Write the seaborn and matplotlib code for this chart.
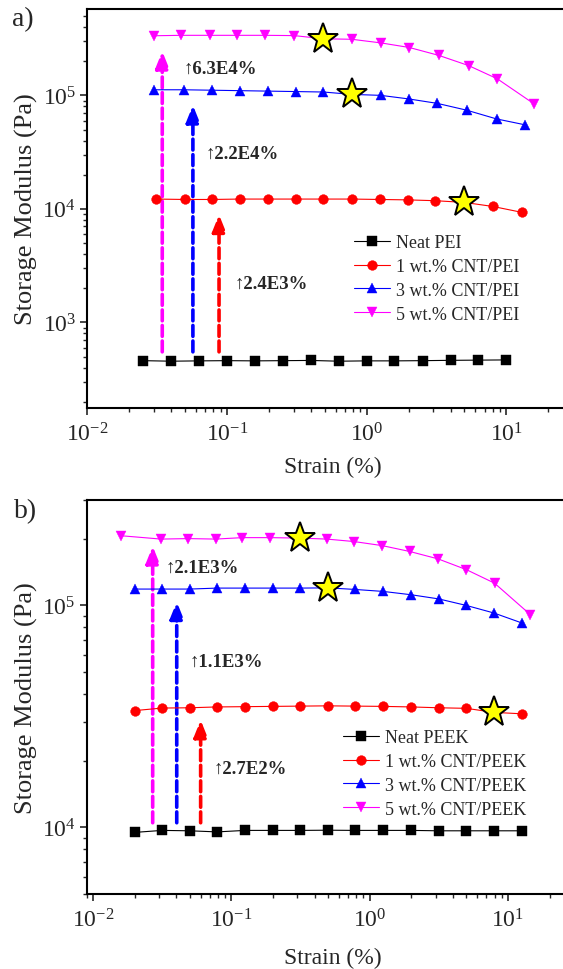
import matplotlib
matplotlib.use("Agg")
import matplotlib.pyplot as plt
import seaborn as sns
from matplotlib.ticker import LogLocator, NullFormatter, FixedLocator

sns.set_style("ticks")
plt.rcParams['font.family'] = ['Liberation Serif', 'DejaVu Serif']
plt.rcParams['mathtext.fontset'] = 'stix'

# ---------------- data: panel a) PEI ----------------
pei_neat_x = [0.0251, 0.0398, 0.0631, 0.1, 0.158, 0.251, 0.398, 0.631, 1.0, 1.58, 2.51, 3.98, 6.31, 10.0]
pei_neat_y = [460, 455, 458, 460, 458, 460, 462, 455, 458, 458, 460, 463, 465, 467]
pei_1_x = [0.031, 0.05, 0.078, 0.123, 0.195, 0.31, 0.49, 0.78, 1.24, 1.96, 3.1, 5.0, 8.0, 13.0]
pei_1_y = [1.22e4, 1.21e4, 1.21e4, 1.22e4, 1.22e4, 1.22e4, 1.22e4, 1.22e4, 1.21e4, 1.2e4, 1.18e4, 1.14e4, 1.05e4, 9.3e3]
pei_3_x = [0.030, 0.049, 0.078, 0.123, 0.195, 0.31, 0.49, 0.78, 1.26, 2.0, 3.2, 5.2, 8.5, 13.6]
pei_3_y = [1.12e5, 1.12e5, 1.11e5, 1.10e5, 1.09e5, 1.08e5, 1.07e5, 1.02e5, 1.0e5, 9.3e4, 8.5e4, 7.4e4, 6.2e4, 5.5e4]
pei_5_x = [0.030, 0.047, 0.075, 0.118, 0.187, 0.304, 0.489, 0.78, 1.26, 2.02, 3.28, 5.36, 8.6, 15.8]
pei_5_y = [3.35e5, 3.38e5, 3.38e5, 3.38e5, 3.38e5, 3.36e5, 3.15e5, 3.12e5, 2.9e5, 2.64e5, 2.25e5, 1.83e5, 1.4e5, 8.4e4]
pei_labels = ["Neat PEI", "1 wt.% CNT/PEI", "3 wt.% CNT/PEI", "5 wt.% CNT/PEI"]
pei_star_idx = [None, 11, 7, 6]
pei_arrow_x = [0.0877, 0.057, 0.0344]
pei_arrow_base = [550, 550, 550]
pei_arrow_tip = [8.9e3, 8.2e4, 2.45e5]
pei_texts = ["\u21912.4E3%", "\u21912.2E4%", "\u21916.3E4%"]
pei_text_x = [0.1125, 0.070, 0.049]
pei_text_y = [2.2e3, 3.1e4, 1.72e5]

# ---------------- data: panel b) PEEK ----------------
peek_x = [0.02, 0.0316, 0.05, 0.079, 0.126, 0.2, 0.316, 0.5, 0.79, 1.26, 2.0, 3.16, 5.0, 7.9, 12.6]
peek_neat_y = [9.5e3, 9.7e3, 9.66e3, 9.55e3, 9.7e3, 9.7e3, 9.7e3, 9.72e3, 9.7e3, 9.7e3, 9.7e3, 9.66e3, 9.66e3, 9.66e3, 9.66e3]
peek_1_y = [3.36e4, 3.45e4, 3.46e4, 3.49e4, 3.5e4, 3.51e4, 3.52e4, 3.53e4, 3.52e4, 3.51e4, 3.49e4, 3.46e4, 3.44e4, 3.3e4, 3.25e4]
peek_3_y = [1.185e5, 1.185e5, 1.185e5, 1.197e5, 1.197e5, 1.197e5, 1.197e5, 1.2e5, 1.18e5, 1.156e5, 1.117e5, 1.07e5, 1.0e5, 9.25e4, 8.34e4]
peek_5_x = [0.016, 0.031, 0.049, 0.077, 0.12, 0.19, 0.316, 0.49, 0.77, 1.23, 1.95, 3.13, 5.0, 8.0, 14.5]
peek_5_y = [2.06e5, 1.99e5, 2.0e5, 1.99e5, 2.02e5, 2.02e5, 2.01e5, 1.99e5, 1.94e5, 1.86e5, 1.75e5, 1.62e5, 1.45e5, 1.26e5, 9.1e4]
peek_labels = ["Neat PEEK", "1 wt.% CNT/PEEK", "3 wt.% CNT/PEEK", "5 wt.% CNT/PEEK"]
peek_star_idx = [None, 13, 7, 6]
peek_arrow_x = [0.06, 0.0403, 0.027]
peek_arrow_base = [1.05e4, 1.05e4, 1.05e4]
peek_arrow_tip = [3.05e4, 1.04e5, 1.85e5]
peek_texts = ["\u21912.7E2%", "\u21911.1E3%", "\u21912.1E3%"]
peek_text_x = [0.074, 0.0502, 0.0337]
peek_text_y = [1.84e4, 5.6e4, 1.48e5]

x_major_ticks = [0.01, 0.1, 1, 10]

colors = ["#000000", "#FF0000", "#0000FF", "#FF00FF"]
markers = ["s", "o", "^", "v"]
msizes = [6.5, 7, 7.5, 7.5]
arrow_colors = ["#FF0000", "#0000FF", "#FF00FF"]

W, H = 563, 970
fig = plt.figure(figsize=(W / 100, H / 100), dpi=100)
ax1 = fig.add_axes([87.3 / W, 1 - 409.3 / H, 558.8 / W, 399.6 / H])
ax2 = fig.add_axes([86.7 / W, 1 - 895.3 / H, 559.5 / W, 394.8 / H])


def draw(ax, xs, ys, labels, star_idx, ax_x, ax_base, ax_tip, texts, tx, ty):
    for x, y, lab, c, m, ms, si in zip(xs, ys, labels, colors, markers, msizes, star_idx):
        sns.lineplot(x=x, y=y, ax=ax, color=c, marker=m, markersize=ms,
                     markeredgecolor=c, markeredgewidth=0.3, linewidth=0.8,
                     label=lab, sort=False, zorder=3)
        if si is not None:
            ax.plot([x[si]], [y[si]], marker="*", markersize=23, color="#FFFF00",
                    markeredgecolor="black", markeredgewidth=1.4, linestyle="none", zorder=5)
    for x, b, t, c in zip(ax_x, ax_base, ax_tip, arrow_colors):
        ax.annotate("", xy=(x, t), xytext=(x, b),
                    arrowprops=dict(arrowstyle="-|>,head_length=1.0,head_width=0.4",
                                    color=c, lw=2.6, linestyle=(0, (3, 1.3)),
                                    shrinkA=0, shrinkB=0), zorder=2)
    for s, x, y in zip(texts, tx, ty):
        ax.text(x, y, s, fontsize=13.5, fontweight="bold", ha="left", va="center", zorder=6)


def style(ax, xlim, ylim):
    ax.set_xscale("log")
    ax.set_yscale("log")
    ax.set_xlim(*xlim)
    ax.set_ylim(*ylim)
    ax.xaxis.set_major_locator(FixedLocator(x_major_ticks))
    ax.xaxis.set_minor_locator(LogLocator(base=10, subs=range(2, 10), numticks=50))
    ax.yaxis.set_minor_locator(LogLocator(base=10, subs=range(2, 10), numticks=50))
    ax.xaxis.set_minor_formatter(NullFormatter())
    ax.yaxis.set_minor_formatter(NullFormatter())
    ax.tick_params(which="major", direction="out", length=5, width=1.2, labelsize=17, pad=3)
    ax.tick_params(axis="x", which="major", pad=5)
    ax.tick_params(which="minor", direction="out", length=2.7, width=1.0)
    for sp in ax.spines.values():
        sp.set_linewidth(1.5)
        sp.set_color("black")
    ax.set_xlabel("")
    ax.set_ylabel("")


draw(ax1, [pei_neat_x, pei_1_x, pei_3_x, pei_5_x], [pei_neat_y, pei_1_y, pei_3_y, pei_5_y],
     pei_labels, pei_star_idx, pei_arrow_x, pei_arrow_base, pei_arrow_tip,
     pei_texts, pei_text_x, pei_text_y)
draw(ax2, [peek_x, peek_x, peek_x, peek_5_x], [peek_neat_y, peek_1_y, peek_3_y, peek_5_y],
     peek_labels, peek_star_idx, peek_arrow_x, peek_arrow_base, peek_arrow_tip,
     peek_texts, peek_text_x, peek_text_y)

style(ax1, (0.01, 100), (175, 5.8e5))
style(ax2, (0.009, 100), (5e3, 3e5))

for ax, (lx, ly) in [(ax1, (354, 235)), (ax2, (343, 730))]:
    ax.legend(loc="upper left", bbox_to_anchor=(lx / W, 1 - ly / H), bbox_transform=fig.transFigure,
              frameon=False, fontsize=13, handlelength=2.0, handletextpad=0.3,
              labelspacing=0.38, borderpad=0, borderaxespad=0)

# axis labels
for yc in [(9.7 + 409.3) / 2, (500.5 + 895.3) / 2]:
    fig.text(26 / W, 1 - yc / H, "Storage Modulus (Pa)", rotation=90, ha="center", va="center", fontsize=19)
for yc in [467, 958]:
    fig.text(333 / W, 1 - yc / H, "Strain (%)", ha="center", va="center", fontsize=17)
fig.text(23 / W, 1 - 20 / H, "a)", ha="center", va="center", fontsize=20)
fig.text(26 / W, 1 - 512 / H, "b)", ha="center", va="center", fontsize=20)

fig.savefig("out.png", dpi=100)
